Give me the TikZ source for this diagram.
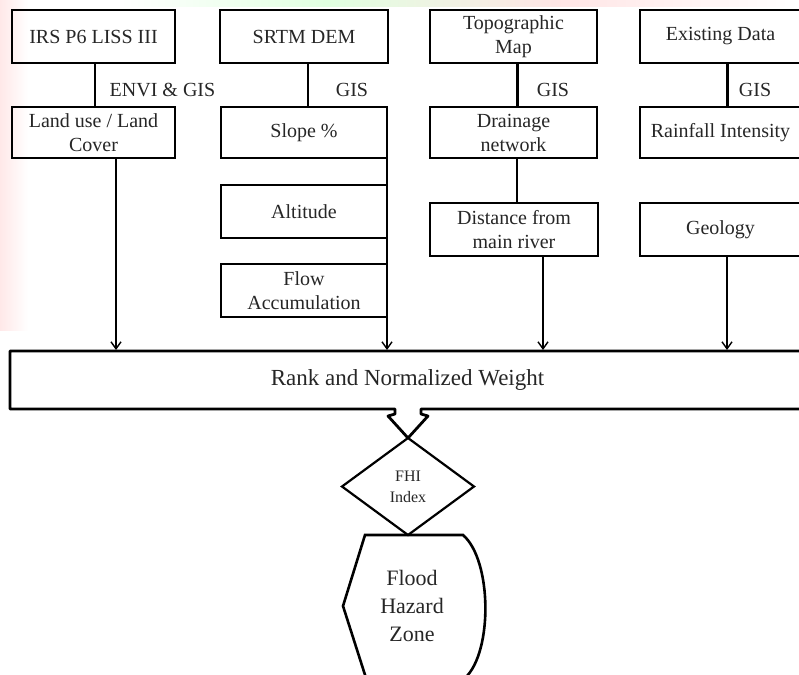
\documentclass[tikz,border=0pt]{standalone}
\usepackage{fontspec}
\setmainfont{Liberation Serif}
\usetikzlibrary{shapes.geometric,arrows.meta,calc}
\begin{document}
\begin{tikzpicture}[x=1pt,y=-1pt,
  txt/.style={font=\fontsize{20}{24}\selectfont, text=black!85},
  box/.style={txt, draw, line width=2.9pt, rectangle, inner sep=0pt, outer sep=0pt, align=center},
  link/.style={line width=2.6pt},
  arr/.style={line width=1.7pt, -{Straight Barb[length=7pt,width=10pt,line width=1.4pt]}},
  lbl/.style={txt, inner sep=0pt},
  boxline/.style={line width=2.8pt, line join=round},
]
\useasboundingbox (0,0) rectangle (799,674);
\clip (0,0) rectangle (799,674);
% faint background watermark
\shade[left color=red!9, right color=white] (0,0) rectangle (28,330);
\shade[left color=white, right color=green!12] (120,0) rectangle (330,7);
\shade[left color=green!12, right color=red!10] (330,0) rectangle (560,7);
\shade[left color=red!10, right color=white] (560,0) rectangle (799,7);

% top row
\node[box, minimum width=163, minimum height=53] (irs)   at (93.5,36.5)  {IRS P6 LISS III};
\node[box, minimum width=168, minimum height=53] (srtm)  at (304,36.5)   {SRTM DEM};
\node[box, minimum width=167, minimum height=53] (topo)  at (513.5,36.5) {Topographic\\Map};
\node[box, minimum width=161, minimum height=53] (exist) at (720.5,36.5) {Existing Data};

% second row
\node[box, minimum width=163, minimum height=51] (land)  at (93.5,132.5) {Land use / Land\\Cover};
\node[box, minimum width=166, minimum height=51] (slope) at (304,132.5)  {Slope \%};
\node[box, minimum width=167, minimum height=51] (drain) at (513.5,132.5){Drainage\\network};
\node[box, minimum width=161, minimum height=51] (rain)  at (720.5,132.5){Rainfall Intensity};

% third/fourth row
\node[box, minimum width=166, minimum height=53] (alt)   at (304,211.5)  {Altitude};
\node[box, minimum width=166, minimum height=53] (flow)  at (304,290.5)  {Flow\\Accumulation};
\node[box, minimum width=168, minimum height=53] (dist)  at (514,229.5)  {Distance from\\main river};
\node[box, minimum width=161, minimum height=53] (geo)   at (720.5,229.5){Geology};

% labels
\node[lbl] (l1) at (162.5,90) {ENVI \& GIS};
\node[lbl] (l2) at (352,90) {GIS};
\node[lbl] (l3) at (553,90) {GIS};
\node[lbl] (l4) at (755,90) {GIS};

% connectors top -> second row
\draw[link] ([xshift=1.5pt]irs.south) -- ([xshift=1.5pt]land.north);
\draw[link] ([xshift=4pt]srtm.south) -- ([xshift=4pt]slope.north);
\draw[link] ([xshift=4pt]topo.south) -- ([xshift=4pt]drain.north);
\draw[link] ([xshift=7pt]exist.south) -- ([xshift=7pt]rain.north);
\draw[link] ([xshift=3.5pt]drain.south) -- ([xshift=3pt]dist.north);

% rank box and FHI
\node[txt, draw=none, minimum width=795, minimum height=58, inner sep=0pt, outer sep=0pt, font=\fontsize{23}{26}\selectfont] (rank) at (407.5,380) {Rank and Normalized Weight};
\node[txt, draw, diamond, line width=2.2pt, inner sep=0pt, outer sep=0pt, minimum width=132, minimum height=97, align=center, font=\fontsize{16}{21}\selectfont] (fhi) at (408,486.5) {FHI\\Index};

% arrows into rank
\draw[arr] ([xshift=22.5pt]land.south) -- ([xshift=22.5pt,yshift=1pt]land.south |- rank.north);
\draw[arr] (slope.south east) -- ([yshift=1pt]slope.south east |- rank.north);
\draw[arr] ([xshift=29pt]dist.south) -- ([xshift=29pt,yshift=1pt]dist.south |- rank.north);
\draw[arr] ([xshift=6.5pt]geo.south) -- ([xshift=6.5pt,yshift=1pt]geo.south |- rank.north);

\coordinate (nb) at (rank.south -| fhi.north);
\draw[boxline] (rank.south west) -- (rank.north west) -- (rank.north east) -- (rank.south east)
  -- ([xshift=13pt]nb) -- ++(0,5) -- ++(7,2) -- (fhi.north) -- ($(nb)+(-20,7)$) -- ++(7,-2) -- ++(0,-5) -- cycle;

% Flood hazard zone (display shape)
\node[txt, align=center, inner sep=0pt, font=\fontsize{22}{28}\selectfont] (flood) at (412,606) {Flood\\Hazard\\Zone};
\draw[boxline, line width=2.6pt, line join=miter] (365,535) -- (463,535) .. controls (492,560) and (493,652) .. (465,678) -- (366,678) -- (343,606) -- cycle;
\end{tikzpicture}
\end{document}
